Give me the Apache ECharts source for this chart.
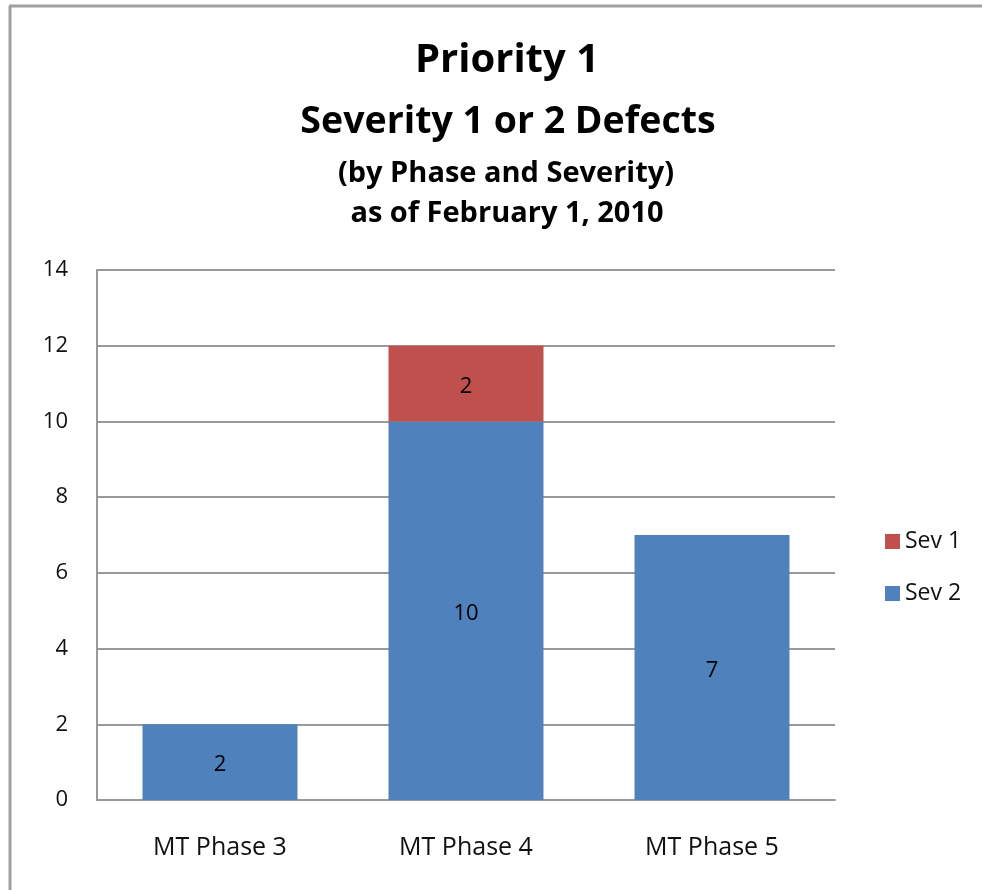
<!DOCTYPE html>
<html>
<head>
<meta charset="utf-8">
<script src="https://cdn.jsdelivr.net/npm/echarts@6/dist/echarts.min.js"></script>
<style>
  html, body { margin: 0; padding: 0; background: #fff; }
  #chart { width: 982px; height: 890px; }
</style>
</head>
<body>
<div id="chart"></div>
<script>
const categories = ["MT Phase 3", "MT Phase 4", "MT Phase 5"];
const sev2 = [2, 10, 7];
const sev1 = [0, 2, 0];
const titleLines = ["Priority 1", "Severity 1 or 2 Defects", "(by Phase and Severity)", "as of February 1, 2010"];

const font = "'Open Sans', 'Noto Sans', sans-serif";
const chart = echarts.init(document.getElementById("chart"), null, { renderer: "canvas" });

// every title line is its own title so the spacing matches
const titleStyle = (size) => ({ fontSize: size, fontWeight: "bold", color: "#000", fontFamily: font });

const option = {
  backgroundColor: "#fff",
  animation: false,
  textStyle: { fontFamily: font },
  title: [
    { text: titleLines[0], left: 502, textAlign: "center", top: 36, textStyle: titleStyle(40) },
    { text: titleLines[1], left: 503, textAlign: "center", top: 98, textStyle: titleStyle(37.5) },
    { text: titleLines[2], left: 501, textAlign: "center", top: 154, textStyle: titleStyle(29) },
    { text: titleLines[3], left: 502, textAlign: "center", top: 194, textStyle: titleStyle(29) }
  ],
  graphic: [
    { type: "line", shape: { x1: 9, y1: 6, x2: 982, y2: 6 }, style: { stroke: "#a0a0a0", lineWidth: 3 }, silent: true },
    { type: "line", shape: { x1: 10, y1: 6, x2: 10, y2: 890 }, style: { stroke: "#a0a0a0", lineWidth: 3 }, silent: true }
  ],
  legend: {
    orient: "vertical",
    left: 880,
    top: 525,
    itemWidth: 15,
    itemHeight: 15,
    itemGap: 29,
    icon: "rect",
    data: ["Sev 1", "Sev 2"],
    textStyle: { fontSize: 23, color: "#111", fontFamily: font, padding: [0, 0, 0, 0] }
  },
  grid: { left: 97, right: 147, top: 270, bottom: 90, containLabel: false },
  xAxis: {
    type: "category",
    data: categories,
    axisLine: { lineStyle: { color: "#999", width: 2 } },
    axisTick: { show: false },
    axisLabel: { fontSize: 25, color: "#111", margin: 35, fontFamily: font }
  },
  yAxis: {
    type: "value",
    min: 0,
    max: 14,
    interval: 2,
    axisLine: { show: true, lineStyle: { color: "#999", width: 2 } },
    axisTick: { show: false },
    splitLine: { lineStyle: { color: "#999", width: 2 } },
    axisLabel: { fontSize: 22, color: "#111", margin: 29, fontFamily: font }
  },
  series: [
    {
      name: "Sev 2",
      type: "bar",
      stack: "total",
      data: sev2,
      barWidth: "63%",
      itemStyle: { color: "#4f81bd" },
      label: { show: true, position: "inside", color: "#000", fontSize: 22, fontFamily: font, offset: [0, 3], formatter: p => p.value ? p.value : "" }
    },
    {
      name: "Sev 1",
      type: "bar",
      stack: "total",
      data: sev1,
      barWidth: "63%",
      itemStyle: { color: "#c0504d" },
      label: { show: true, position: "inside", color: "#000", fontSize: 22, fontFamily: font, offset: [0, 3], formatter: p => p.value ? p.value : "" }
    }
  ]
};

chart.setOption(option);
</script>
</body>
</html>
